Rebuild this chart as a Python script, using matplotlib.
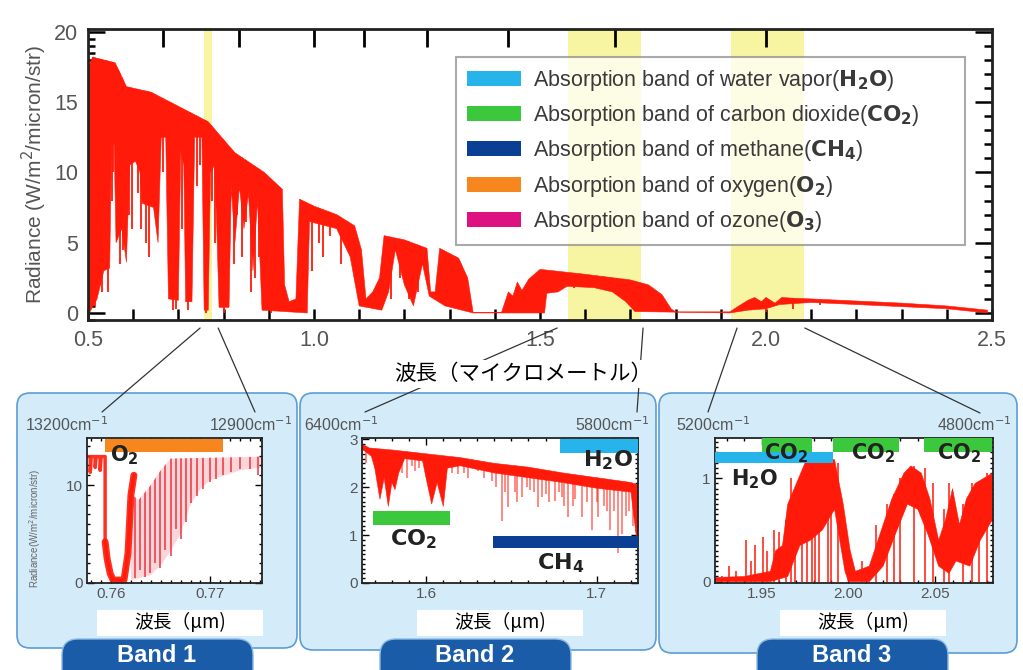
import numpy as np
import matplotlib
matplotlib.use('Agg')
import matplotlib.pyplot as plt
from matplotlib.patches import FancyBboxPatch, Rectangle, Patch, ConnectionPatch
from matplotlib.ticker import MultipleLocator, FixedLocator, FormatStrFormatter, NullLocator

plt.rcParams['font.family'] = ['Liberation Sans', 'Noto Sans CJK JP', 'DejaVu Sans']
CJK = ['Noto Sans CJK JP', 'DejaVu Sans']

# ---------------- data ----------------
# zoom bands, in wavenumber (cm-1)
band_wn = [(13200, 12900), (6400, 5800), (5200, 4800)]
band_names = ['Band 1', 'Band 2', 'Band 3']
top_wn_ticks = [15000, 12000, 10000, 9000, 8000, 7000, 6000, 5000]

# main spectrum: upper envelope, lower edge of the band, single deep lines
main_top_wl = [0.503, 0.503, 0.51, 0.56, 0.575, 0.585, 0.64, 0.70, 0.766, 0.825, 0.89, 0.93,
               0.935, 0.945, 0.96, 0.968, 1.00, 1.05, 1.09, 1.105, 1.115, 1.13, 1.145, 1.155,
               1.20, 1.25, 1.258, 1.268, 1.278, 1.32, 1.34, 1.352, 1.415, 1.43, 1.44, 1.45,
               1.46, 1.475, 1.50, 1.53, 1.60, 1.65, 1.70, 1.74, 1.77, 1.79, 1.80, 1.92, 1.94,
               1.96, 1.975, 1.99, 2.00, 2.02, 2.035, 2.06, 2.10, 2.20, 2.30, 2.40, 2.49, 2.49]
main_top_val = [0, 17.6, 18.2, 17.8, 16.8, 16.1, 15.7, 14.7, 13.6, 11.4, 10.0, 8.8,
                2.0, 0.8, 1.0, 8.1, 7.6, 7.0, 6.2, 4.5, 1.0, 1.5, 2.5, 5.5,
                5.2, 4.6, 1.5, 1.5, 4.6, 3.9, 2.5, 0.05, 0.05, 1.5, 1.2, 2.2,
                1.6, 2.4, 3.1, 3.0, 2.75, 2.55, 2.35, 2.0, 1.3, 0.3, 0.08, 0.08, 0.5,
                0.9, 1.1, 0.8, 1.1, 0.7, 1.1, 1.05, 1.0, 0.85, 0.7, 0.5, 0.2, 0]
main_low_wl = [0.503, 0.52, 0.535, 0.548, 0.552, 0.558, 0.562, 0.575, 0.585, 0.592, 0.605,
               0.615, 0.62, 0.645, 0.655, 0.662, 0.672, 0.678, 0.70, 0.705, 0.712, 0.716,
               0.73, 0.736, 0.752, 0.757, 0.766, 0.771, 0.78, 0.785, 0.79, 0.812, 0.817,
               0.825, 0.835, 0.845, 0.855, 0.865, 0.875, 0.885, 0.985, 0.99, 1.05, 1.08,
               1.10, 1.15, 1.165, 1.18, 1.20, 1.22, 1.24, 1.255, 1.29, 1.352, 1.51, 1.515,
               1.54, 1.56, 1.62, 1.66, 1.69, 1.71, 1.92, 1.96, 2.00, 2.03, 2.10, 2.20,
               2.30, 2.40, 2.49]
main_low_val = [0, 1.0, 3.0, 3.2, 12.0, 12.0, 5.0, 6.0, 3.6, 10.5, 10.8,
                10.0, 7.8, 7.5, 5.0, 12.5, 12.5, 1.0, 0.9, 11.5, 10.5, 0.8,
                0.8, 12.5, 12.5, 0.2, 0.2, 10.0, 10.5, 6.0, 0.4, 0.4, 9.0,
                5.0, 9.0, 6.0, 8.5, 3.0, 8.0, 0.2, 0, 6.5, 6.0, 4.0,
                0.5, 0.2, 1.5, 4.5, 2.0, 0.5, 3.5, 1.2, 0.5, 0, 0, 1.4,
                1.5, 1.9, 1.8, 1.5, 0.8, 0.1, 0, 0.2, 0.3, 0.6, 0.75, 0.6,
                0.45, 0.3, 0]
main_dip_wl = [0.505, 0.512, 0.515, 0.527, 0.53, 0.54, 0.545, 0.553, 0.556, 0.566, 0.57,
               0.578, 0.59, 0.598, 0.61, 0.617, 0.624, 0.628, 0.633, 0.636, 0.641, 0.65,
               0.666, 0.683, 0.688, 0.694, 0.708, 0.722, 0.728, 0.742, 0.747, 0.76, 0.775,
               0.782, 0.80, 0.822, 0.83, 0.84, 0.85, 0.86, 0.87, 0.878, 0.905, 0.995, 1.01,
               1.02, 1.035, 1.06, 1.075, 1.17, 1.19, 1.21, 1.23, 1.285, 1.30, 1.315, 1.325,
               1.575, 1.59, 1.61, 1.625, 1.64, 1.655, 1.67, 1.685, 2.0, 2.06, 2.12]
main_dip_val = [2.0, 4.0, 0.5, 2.0, 1.5, 4.0, 1.5, 8.0, 10.0, 7.0, 3.5,
                4.5, 7.0, 6.0, 8.5, 6.0, 9.0, 5.0, 8.0, 4.0, 9.5, 7.0,
                10.0, 5.0, 0.2, 0.3, 6.0, 0.2, 3.0, 9.0, 10.5, 0.0, 8.0,
                5.0, 0.0, 3.5, 7.0, 4.0, 6.5, 1.5, 2.5, 4.0, 0.0, 3.0, 5.0,
                4.0, 5.5, 3.5, 4.5, 1.0, 2.5, 1.0, 1.5, 2.0, 0.8, 1.2, 2.0,
                1.8, 2.0, 1.9, 1.8, 1.7, 1.6, 1.5, 1.3, 0.1, 0.3, 0.6]

legend_colors = ['#27b4ea', '#3cc83c', '#0b3f93', '#f7861f', '#dd1180']
legend_labels = ['Absorption band of water vapor($\\mathbf{H_2O}$)',
                 'Absorption band of carbon dioxide($\\mathbf{CO_2}$)',
                 'Absorption band of methane($\\mathbf{CH_4}$)',
                 'Absorption band of oxygen($\\mathbf{O_2}$)',
                 'Absorption band of ozone($\\mathbf{O_3}$)']

# band 1 (O2 A band)
b1_core_wl = [0.7576, 0.7579, 0.7579, 0.7580, 0.7584, 0.7584, 0.7585, 0.7589, 0.7589, 0.7590,
              0.7594, 0.7594, 0.7596, 0.7599, 0.7602, 0.7613, 0.7617, 0.7620, 0.7623]
b1_core_val = [12.9, 12.9, 11.3, 12.9, 12.9, 11.8, 12.9, 12.9, 11.5, 12.9,
               12.9, 4.2, 2.5, 1.0, 0.3, 0.3, 3.0, 9.0, 11.0]
b1_top_wl = [0.7620, 0.7628, 0.7640, 0.7650, 0.7660, 0.7752]
b1_top_val = [9.0, 8.5, 10.0, 11.5, 12.7, 12.9]
b1_low_wl = [0.7620, 0.7640, 0.7650, 0.7660, 0.7670, 0.7680, 0.7690, 0.7700, 0.7715, 0.7730, 0.7752]
b1_low_val = [0.3, 0.8, 1.8, 3.3, 5.0, 8.0, 9.6, 10.5, 11.0, 11.5, 11.8]
b1_line_wl = [0.7624, 0.7629, 0.7634, 0.7639, 0.7644, 0.7649, 0.7654, 0.7660, 0.7665, 0.7670,
              0.7675, 0.7680, 0.7686, 0.7693, 0.7700, 0.7706, 0.7713, 0.7721, 0.7730, 0.7740, 0.7748]
b1_line_val = [0.5, 1.3, 0.6, 1.0, 2.0, 1.5, 3.4, 2.8, 5.5, 4.5,
               6.2, 8.2, 8.9, 9.6, 10.3, 10.6, 11.0, 11.3, 11.6, 11.6, 11.0]

# band 2
b2_top_wl = [1.5625, 1.567, 1.58, 1.60, 1.62, 1.64, 1.66, 1.68, 1.70, 1.72, 1.7241]
b2_top_val = [2.9, 2.82, 2.78, 2.7, 2.62, 2.5, 2.42, 2.3, 2.2, 2.1, 2.05]
b2_low_wl = [1.5625, 1.568, 1.5700, 1.5730, 1.5755, 1.5779, 1.5800, 1.5818, 1.5840, 1.5875,
             1.5980, 1.6000, 1.6033, 1.6065, 1.6101, 1.6125, 1.62, 1.64, 1.66, 1.68, 1.70,
             1.72, 1.7241]
b2_low_val = [2.8, 2.65, 2.4, 1.75, 2.2, 1.6, 2.1, 1.95, 2.3, 2.6,
              2.55, 2.2, 1.65, 2.1, 1.6, 2.4, 2.45, 2.3, 2.2, 2.1, 1.98,
              1.9, 0.7]
b2_line_wl = [1.5650, 1.5700, 1.5860, 1.5887, 1.5920, 1.5935, 1.5960, 1.6150, 1.6189, 1.6220,
              1.6247, 1.6270, 1.6306, 1.6340, 1.6384, 1.6410, 1.6443, 1.6460, 1.6482, 1.6520,
              1.6530, 1.6560, 1.6590, 1.6610, 1.6630, 1.6657, 1.6680, 1.6700, 1.6720, 1.6755,
              1.6780, 1.6795, 1.6810, 1.6833, 1.6860, 1.6870, 1.6911, 1.6940, 1.6970, 1.7000,
              1.7009, 1.7040, 1.7060, 1.7077, 1.7100, 1.7126, 1.7145, 1.7170, 1.7190, 1.7210]
b2_line_val = [2.5, 2.4, 2.3, 2.2, 2.45, 2.35, 2.4, 2.3, 2.27, 2.3,
               2.2, 2.4, 2.34, 2.2, 2.13, 2.0, 1.30, 1.9, 1.58, 1.9,
               1.7, 1.79, 2.0, 1.95, 1.9, 1.58, 1.8, 1.85, 1.7, 1.72,
               1.9, 1.8, 1.6, 1.37, 1.6, 1.75, 1.37, 1.7, 1.10, 1.7,
               1.37, 1.6, 1.5, 1.10, 1.5, 0.62, 1.03, 1.4, 1.5, 1.2]

# band 3
b3_top_wl = [1.923, 1.94, 1.955, 1.958, 1.962, 1.965, 1.970, 1.975, 1.985, 1.992, 1.997, 2.001,
             2.004, 2.012, 2.018, 2.025, 2.032, 2.036, 2.042, 2.047, 2.052, 2.056, 2.060, 2.064,
             2.068, 2.073, 2.078, 2.083]
b3_top_val = [0.04, 0.05, 0.1, 0.3, 0.35, 0.75, 0.95, 1.15, 1.2, 1.18, 0.75, 0.3,
              0.1, 0.15, 0.45, 0.8, 1.05, 1.12, 1.05, 0.8, 0.4, 0.6, 0.9, 0.55,
              0.8, 0.95, 1.0, 1.05]
b3_low_wl = [1.923, 1.955, 1.965, 1.972, 1.978, 1.985, 1.992, 1.998, 2.0, 2.012, 2.02, 2.028,
             2.034, 2.04, 2.046, 2.052, 2.058, 2.062, 2.07, 2.076, 2.083]
b3_low_val = [0.0, 0.0, 0.05, 0.35, 0.4, 0.5, 0.7, 0.1, 0.0, 0.0, 0.15, 0.5,
              0.75, 0.7, 0.45, 0.15, 0.08, 0.2, 0.15, 0.4, 0.6]
b3_spike_wl = [1.927, 1.931, 1.935, 1.941, 1.944, 1.946, 1.951, 1.953, 1.957, 1.960, 1.964,
               1.967, 1.969, 1.973, 1.976, 1.979, 1.981, 1.983, 1.988, 1.990, 1.994, 2.008,
               2.016, 2.022, 2.026, 2.030, 2.038, 2.044, 2.049, 2.055, 2.058, 2.066, 2.071,
               2.075, 2.080]
b3_spike_val = [0.05, 0.15, 0.1, 0.4, 0.2, 0.35, 0.43, 0.3, 0.5, 0.48, 0.6,
                1.0, 0.9, 0.8, 1.1, 1.18, 0.9, 1.1, 1.15, 1.2, 1.15, 0.2,
                0.55, 0.75, 0.85, 1.0, 1.12, 1.1, 0.95, 0.7, 0.95, 0.75, 0.95,
                0.9, 1.05]

# absorption bars in the zoom panels: (x0, x1, y0, y1, color)
b1_bars = [(0.7594, 0.7713, 13.4, 14.7, '#f7861f')]
b2_bars = [(1.6784, 1.7241, 2.72, 3.0, '#27b4ea'), (1.5689, 1.614, 1.22, 1.51, '#3cc83c'),
           (1.6392, 1.7241, 0.73, 0.99, '#0b3f93')]
b3_bars = [(1.923, 1.9913, 1.147, 1.254, '#27b4ea'), (1.9502, 1.9792, 1.254, 1.39, '#3cc83c'),
           (1.9913, 2.0289, 1.254, 1.39, '#3cc83c'), (2.0434, 2.083, 1.254, 1.39, '#3cc83c')]
b1_tags = [(0.7613, 13.0, r'$\mathbf{O_2}$')]
b2_tags = [(1.7065, 2.56, r'$\mathbf{H_2O}$'), (1.5924, 0.92, r'$\mathbf{CO_2}$'),
           (1.679, 0.42, r'$\mathbf{CH_4}$')]
b3_tags = [(1.946, 0.99, r'$\mathbf{H_2O}$'), (1.964, 1.245, r'$\mathbf{CO_2}$'),
           (2.0144, 1.245, r'$\mathbf{CO_2}$'), (2.0636, 1.245, r'$\mathbf{CO_2}$')]

RED = '#ff1a0a'
W, H = 1023, 670


def inch(x, y):
    # picture pixels -> inches from bottom-left
    return (x / 100, (H - y) / 100)


def spectrum(ax, top_wl, top_val, low_wl, low_val, color, alpha=1.0):
    xs = np.concatenate([top_wl, low_wl[::-1]])
    ys = np.concatenate([top_val, low_val[::-1]])
    ax.fill(xs, ys, color=color, lw=0.4, alpha=alpha, zorder=2)


def dips(ax, top_wl, top_val, wl, val, color, lw, alpha, ybase):
    clip = ax.fill(np.r_[top_wl, top_wl[-1], top_wl[0]], np.r_[top_val, ybase, ybase],
                   fc='none', ec='none')[0]
    lc = ax.vlines(wl, val, 100, colors=color, lw=lw, alpha=alpha, zorder=2)
    lc.set_clip_path(clip)


fig = plt.figure(figsize=(W / 100, H / 100), dpi=100)

# light blue panels behind the zooms
for x0, y0, x1, y1 in [(17, 393, 297, 648), (300, 393, 656, 650), (659, 393, 1017, 653)]:
    fig.add_artist(FancyBboxPatch(inch(x0, y1), (x1 - x0) / 100, (y1 - y0) / 100,
                                  boxstyle='round,pad=0,rounding_size=0.13',
                                  transform=fig.dpi_scale_trans, fc='#d4ecf9', ec='#5d9cd6',
                                  lw=1.2, zorder=-2))

# ---------------- main spectrum ----------------
ax = fig.add_axes([88 / W, 1 - 320 / H, 904 / W, 291 / H])
for wn1, wn2 in band_wn:
    ax.axvspan(1e4 / wn1, 1e4 / wn2, color='#f8f5a2', lw=0, zorder=0)
spectrum(ax, main_top_wl, main_top_val, main_low_wl, main_low_val, RED)
dips(ax, main_top_wl, main_top_val, main_dip_wl, main_dip_val, RED, 1.3, 1.0, -1)
ax.set_xlim(0.5, 2.5)
ax.set_ylim(-0.5, 20.2)
ax.xaxis.set_major_locator(MultipleLocator(0.5))
ax.xaxis.set_minor_locator(MultipleLocator(0.1))
ax.xaxis.set_major_formatter(FormatStrFormatter('%.1f'))
ax.yaxis.set_major_locator(MultipleLocator(5))
ax.yaxis.set_minor_locator(MultipleLocator(0.5))
ax.tick_params(which='both', direction='in', top=False, right=False, width=1.8,
               labelsize=15.5, labelcolor='#555555', pad=7)
ax.tick_params(axis='x', which='both', length=8)
ax.tick_params(axis='y', which='major', length=12)
ax.tick_params(axis='y', which='minor', length=5)
for s in ax.spines.values():
    s.set_linewidth(2)
    s.set_color('#222222')
ax.set_ylabel('Radiance (W/m$^2$/micron/str)', fontsize=15, color='#555555', labelpad=4)

with np.errstate(divide='ignore'):
    secx = ax.secondary_xaxis('top', functions=(lambda x: 1e4 / x, lambda x: 1e4 / x))
secx.xaxis.set_major_locator(FixedLocator(top_wn_ticks))
secx.xaxis.set_minor_locator(NullLocator())
secx.tick_params(direction='in', length=13, width=2, labeltop=False)
secy = ax.secondary_yaxis('right')
secy.yaxis.set_major_locator(MultipleLocator(5))
secy.yaxis.set_minor_locator(MultipleLocator(1))
secy.tick_params(which='both', direction='in', width=1.8, labelright=False)
secy.tick_params(which='major', length=12)
secy.tick_params(which='minor', length=6)

handles = [Patch(fc=c, ec='none') for c in legend_colors]
leg = ax.legend(handles, legend_labels, loc='upper left',
                bbox_to_anchor=(0.407, 0.247, 0.563, 0.657), mode='expand',
                fontsize=15.5, fancybox=False, edgecolor='#8a8a8a', framealpha=0.72,
                handlelength=2.5, handleheight=0.7, handletextpad=0.6, labelspacing=0.48,
                borderpad=0.5, borderaxespad=0)
leg.get_frame().set_linewidth(1.5)
for t in leg.get_texts():
    t.set_color('#3a3a3a')

fig.text(523 / W, 1 - 374 / H, '波長（マイクロメートル）', family=CJK, fontsize=15.5,
         ha='center', va='center', color='black', zorder=6,
         bbox=dict(fc='white', ec='none', pad=2))

# ---------------- zoom panels ----------------
panels = [
    dict(rect=[87, 438, 262, 583], ylim=(0, 14.8), xmaj=[0.76, 0.77], xmin=0.001, fmt='%.2f',
         ymaj=[0, 10], ymin=1, bars=b1_bars, tags=b1_tags, tagsize=15),
    dict(rect=[362, 438, 638, 583], ylim=(0, 3.03), xmaj=[1.6, 1.7], xmin=0.01, fmt='%.1f',
         ymaj=[0, 1, 2, 3], ymin=0.1, bars=b2_bars, tags=b2_tags, tagsize=16),
    dict(rect=[715, 438, 993, 583], ylim=(-0.013, 1.39), xmaj=[1.95, 2.0, 2.05], xmin=0.01,
         fmt='%.2f', ymaj=[0, 1], ymin=0.05, bars=b3_bars, tags=b3_tags, tagsize=15),
]
wn_left_x = [25, 304, 676]
wn_right_x = [292, 649, 1011]
label_box_x = [97, 417, 780]
pill_x = [62, 380, 757]

paxes = []
for i, p in enumerate(panels):
    x0, y0, x1, y1 = p['rect']
    pa = fig.add_axes([x0 / W, 1 - y1 / H, (x1 - x0) / W, (y1 - y0) / H])
    paxes.append(pa)
    wn1, wn2 = band_wn[i]
    pa.set_xlim(1e4 / wn1, 1e4 / wn2)
    pa.set_ylim(*p['ylim'])
    pa.xaxis.set_major_locator(FixedLocator(p['xmaj']))
    pa.xaxis.set_minor_locator(MultipleLocator(p['xmin']))
    pa.xaxis.set_major_formatter(FormatStrFormatter(p['fmt']))
    pa.yaxis.set_major_locator(FixedLocator(p['ymaj']))
    pa.yaxis.set_minor_locator(MultipleLocator(p['ymin']))
    pa.tick_params(which='both', direction='in', top=True, right=True, width=1,
                   labelsize=11, labelcolor='#555555', pad=3)
    pa.tick_params(which='major', length=5)
    pa.tick_params(which='minor', length=2.5)
    for s in pa.spines.values():
        s.set_linewidth(1.3)
        s.set_color('#222222')
    for bx0, bx1, by0, by1, c in p['bars']:
        pa.broken_barh([(bx0, bx1 - bx0)], (by0, by1 - by0), facecolors=c, zorder=3)
    for tx, ty, s in p['tags']:
        pa.text(tx, ty, s, fontsize=p['tagsize'], color='#222222', ha='center', va='center',
                zorder=4)

    fig.text(wn_left_x[i] / W, 1 - 425 / H, '%dcm$^{-1}$' % wn1, fontsize=11.5,
             color='#555555', ha='left', va='center')
    fig.text(wn_right_x[i] / W, 1 - 425 / H, '%dcm$^{-1}$' % wn2, fontsize=11.5,
             color='#555555', ha='right', va='center')

    lx = label_box_x[i]
    fig.add_artist(Rectangle(inch(lx, 636), 1.66, 0.26, transform=fig.dpi_scale_trans,
                             fc='white', ec='none', zorder=3))
    fig.text((lx + 83) / W, 1 - 623 / H, '波長（μm)', family=CJK, fontsize=13.5,
             ha='center', va='center', zorder=4)

    px = pill_x[i]
    fig.add_artist(FancyBboxPatch(inch(px, 685), 1.91, 0.46,
                                  boxstyle='round,pad=0,rounding_size=0.16',
                                  transform=fig.dpi_scale_trans, fc='#1a5ca8', ec='#8bb8e4',
                                  lw=1.0, zorder=3))
    fig.text((px + 95) / W, 1 - 656 / H, band_names[i], fontsize=17, fontweight='bold',
             color='white', ha='center', va='center', zorder=4)

ax1, ax2, ax3 = paxes

# band 1: thick core path + pale line forest
ax1.fill(np.r_[b1_top_wl, b1_low_wl[::-1]], np.r_[b1_top_val, b1_low_val[::-1]],
         color='#fbd6d8', lw=0, zorder=1)
dips(ax1, b1_top_wl, b1_top_val, b1_line_wl, b1_line_val, '#ee2a3a', 1.4, 0.75, -1)
ax1.plot(b1_core_wl, b1_core_val, color=RED, lw=2.5, alpha=0.9, solid_joinstyle='round', zorder=2)
ax1.plot(b1_core_wl[11:], b1_core_val[11:], color=RED, lw=5, alpha=0.9,
         solid_joinstyle='round', solid_capstyle='round', zorder=2)
ax1.set_ylabel('Radiance(W/m$^2$/micron/str)', fontsize=7, color='#666666')
ax1.yaxis.set_label_coords(-0.25, 0.38)

# band 2
spectrum(ax2, b2_top_wl, b2_top_val, b2_low_wl, b2_low_val, RED)
dips(ax2, b2_top_wl, b2_top_val, b2_line_wl, b2_line_val, RED, 1.1, 0.65, -1)

# band 3
spectrum(ax3, b3_top_wl, b3_top_val, b3_low_wl, b3_low_val, RED)
ax3.vlines(b3_spike_wl, 0, b3_spike_val, colors=RED, lw=1.3, alpha=0.85, zorder=2)

# connectors from the main axis to the zoom panels
conn_start = [0.748, 0.788, 1.538, 1.728, 1.936, 2.086]
conn_end = [(102, 412), (255, 412), (365, 412), (637, 412), (708, 412), (980, 413)]
for wl, (ex, ey) in zip(conn_start, conn_end):
    fig.add_artist(ConnectionPatch(xyA=(wl, -1.07), coordsA=ax.transData,
                                   xyB=inch(ex, ey), coordsB=fig.dpi_scale_trans,
                                   color='#333333', lw=0.9, zorder=1))

fig.savefig('out.png', dpi=100)
